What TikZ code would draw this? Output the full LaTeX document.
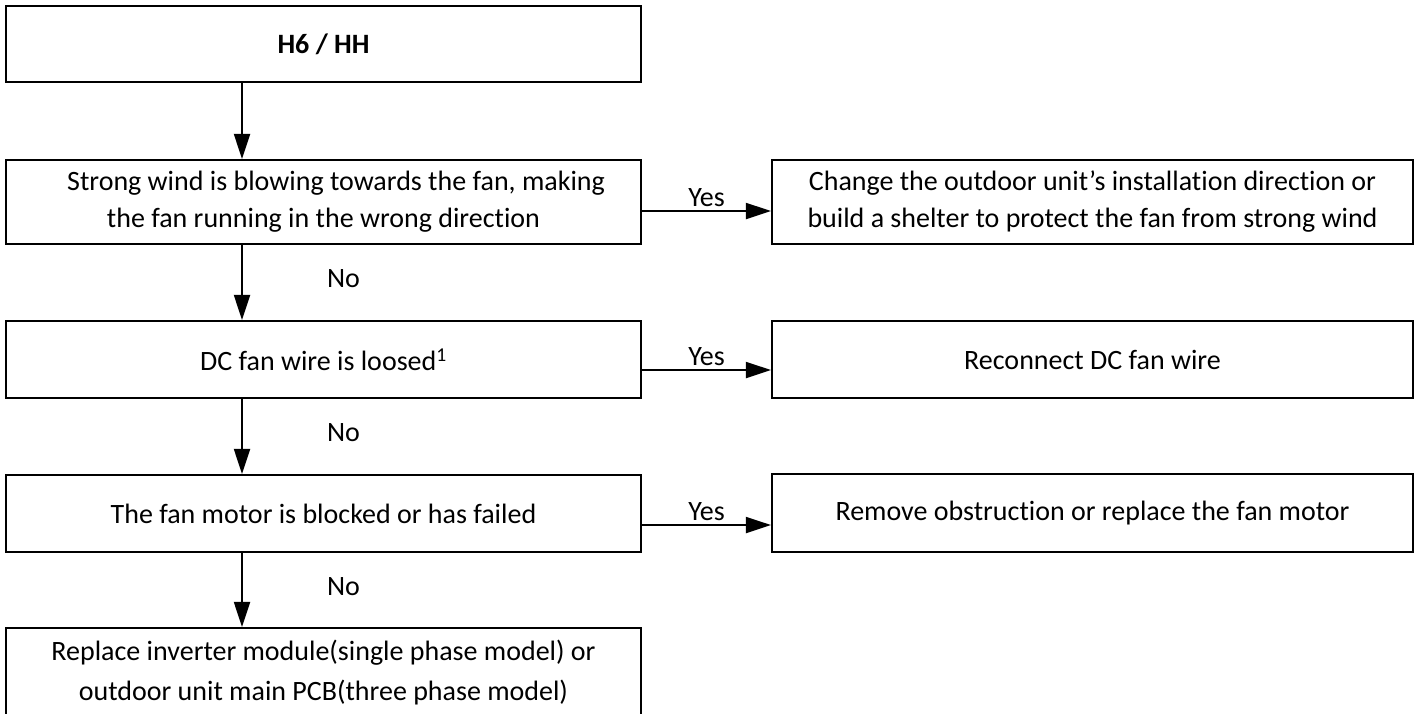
\documentclass[tikz,border=0pt]{standalone}
\usepackage{fontspec}
\setmainfont{Carlito}[Ligatures={NoCommon}]
\usetikzlibrary{arrows.meta}
\begin{document}
\begin{tikzpicture}[x=1pt,y=-1pt,
  box/.style={draw=black,line width=2.2pt,rectangle,inner sep=0pt,align=center,
    font=\fontsize{28}{37}\selectfont},
  lbox/.style={box,minimum width=635pt},
  rbox/.style={box,minimum width=641pt},
  conn/.style={line width=2pt,-{Triangle[length=25pt,width=16pt]}},
  lbl/.style={font=\fontsize{28}{33}\selectfont,inner sep=0pt}]
\useasboundingbox (0,0) rectangle (1415,713);
\clip (0,0) rectangle (1415,713);
% left column
\node[lbox,minimum height=76pt] (b1) at (323.5,44) {\textbf{H6 / HH}};
\node[lbox,minimum height=84pt] (b2) at (323.5,202)
  {\hspace*{0.9em}Strong wind is blowing towards the fan, making\\the fan running in the wrong direction};
\node[lbox,minimum height=77pt] (b3) at (323.5,359.5) {DC fan wire is loosed\textsuperscript{1}};
\node[lbox,minimum height=77pt] (b4) at (323.5,513.5) {The fan motor is blocked or has failed};
\node[lbox,minimum height=100pt] (b5) at (323.5,678) {};
\node[font=\fontsize{28}{40}\selectfont,align=center,inner sep=0pt] (b5t) at (323.5,673)
  {Replace inverter module(single phase model) or\\outdoor unit main PCB(three phase model)};
% right column
\node[rbox,minimum height=84pt] (r1) at (1092.5,202)
  {Change the outdoor unit’s installation direction or\\build a shelter to protect the fan from strong wind};
\node[rbox,minimum height=77pt] (r2) at (1092.5,359.5) {Reconnect DC fan wire};
\node[rbox,minimum height=78pt] (r3) at (1092.5,513) {Remove obstruction or replace the fan motor};
% vertical connectors
\coordinate (ax) at (242,0);
\draw[conn] (b1.south -| ax) -- (b2.north -| ax);
\draw[conn] (b2.south -| ax) -- (b3.north -| ax) node[lbl,pos=0.45,right=84pt] (n1) {No};
\draw[conn] (b3.south -| ax) -- (b4.north -| ax) node[lbl,pos=0.45,right=84pt] (n2) {No};
\draw[conn] (b4.south -| ax) -- (b5.north -| ax) node[lbl,pos=0.45,right=84pt] (n3) {No};
% horizontal connectors
\coordinate (y1) at (0,211);
\coordinate (y2) at (0,370);
\coordinate (y3) at (0,525);
\draw[conn] (b2.east |- y1) -- (r1.west |- y1) node[lbl,midway,above=3pt] (t1) {Yes};
\draw[conn] (b3.east |- y2) -- (r2.west |- y2) node[lbl,midway,above=3pt] (t2) {Yes};
\draw[conn] (b4.east |- y3) -- (r3.west |- y3) node[lbl,midway,above=3pt] (t3) {Yes};
\end{tikzpicture}
\end{document}
